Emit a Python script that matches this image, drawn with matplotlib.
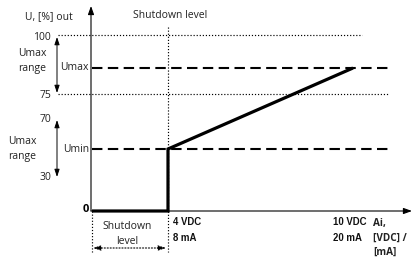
# Output characteristic diagram: U [%] out versus analogue input Ai
import matplotlib.pyplot as plt

# schematic positions (figure pixel grid, y grows downwards)
x_origin = 92
x_4v = 168
x_10v = 353
x_end = 389

y_100 = 35
y_umax = 68
y_75 = 94
y_umin = 149
y_zero = 211

# output curve: 0 until 4 VDC, jump to Umin, ramp to Umax at 10 VDC
out_x = [x_origin, x_4v, x_4v, x_10v]
out_y = [y_zero, y_zero, y_umin, y_umax]

# labels
left_ticks = ["100", "75", "70", "30"]
left_tick_y = [37, 95, 120, 178]
x_tick_labels = ["4 VDC\n8 mA", "10 VDC\n20 mA"]
x_tick_pos = [x_4v + 5, x_10v - 20]

fig = plt.figure(figsize=(4.12, 2.57), dpi=100)
ax = fig.add_axes([0, 0, 1, 1])
ax.set_xlim(0, 412)
ax.set_ylim(257, 0)
ax.axis("off")

reg = dict(family="Open Sans", fontsize=7.5, color="#222222")
cond = dict(family="Liberation Sans", fontsize=6.9, fontweight="bold",
            color="#111111")

dot = (0, (1, 1.6))
dash = (0, (5, 2.6))

# dotted guide lines
ax.plot([58, 362], [y_100, y_100], color="black", lw=0.85, linestyle=dot)
ax.plot([58, x_end], [y_75, y_75], color="black", lw=0.85, linestyle=dot)
ax.plot([x_4v, x_4v], [27, 252], color="black", lw=0.85, linestyle=dot)
ax.plot([x_origin, x_origin], [y_zero, 252], color="black", lw=0.85, linestyle=dot)

# dashed Umax / Umin levels
ax.plot([x_origin, x_end], [y_umax, y_umax], color="black", lw=1.5, linestyle=dash)
ax.plot([x_origin, x_end], [y_umin, y_umin], color="black", lw=1.5, linestyle=dash)

# axes with arrows
ax.annotate("", xy=(x_origin - 1, 6), xytext=(x_origin - 1, y_zero),
            arrowprops=dict(arrowstyle="-|>,head_length=0.5,head_width=0.18",
                            lw=0.8, color="black", shrinkA=0, shrinkB=0))
ax.annotate("", xy=(412, y_zero), xytext=(x_origin - 1, y_zero),
            arrowprops=dict(arrowstyle="-|>,head_length=0.5,head_width=0.18",
                            lw=0.8, color="black", shrinkA=0, shrinkB=0))

# range arrows
for y0, y1 in [(37, 93), (120, 177)]:
    ax.annotate("", xy=(57, y0), xytext=(57, y1),
                arrowprops=dict(arrowstyle="<|-|>,head_length=0.45,head_width=0.15",
                                lw=0.7, color="black", shrinkA=0, shrinkB=0))
ax.annotate("", xy=(x_origin + 1, 248), xytext=(x_4v - 2, 248),
            arrowprops=dict(arrowstyle="<|-|>,head_length=0.45,head_width=0.15",
                            lw=0.8, color="black", linestyle=":", shrinkA=0, shrinkB=0))

# output curve
ax.plot(out_x, out_y, color="black", lw=2.3, solid_joinstyle="miter",
        solid_capstyle="butt")

# texts
ax.text(25, 17, "U, [%] out", ha="left", va="center", **reg)
ax.text(133, 16, "Shutdown level", ha="left", va="center", **reg)
for lab, yy in zip(left_ticks, left_tick_y):
    ax.text(51, yy, lab, ha="right", va="center", **reg)
ax.text(18, 61, "Umax\nrange", ha="left", va="center", linespacing=1.5, **reg)
ax.text(8, 149, "Umax\nrange", ha="left", va="center", linespacing=1.5, **reg)
ax.text(89, y_umax, "Umax", ha="right", va="center", **reg)
ax.text(89, y_umin, "Umin", ha="right", va="center", **reg)
ax.text(89, 209, "0", ha="right", va="center", family="Open Sans",
        fontsize=8, fontweight="bold")
ax.text(127, 234, "Shutdown\nlevel", ha="center", va="center",
        linespacing=1.45, **reg)
for lab, xx in zip(x_tick_labels, x_tick_pos):
    ax.text(xx, 230, lab, ha="left", va="center", linespacing=1.65, **cond)
ax.text(373, 238, "Ai,\n[VDC] /\n[mA]", ha="left", va="center",
        linespacing=1.4, family="Open Sans", fontsize=7.2, fontweight="bold",
        color="#222222")

fig.savefig("out.png", dpi=100)
